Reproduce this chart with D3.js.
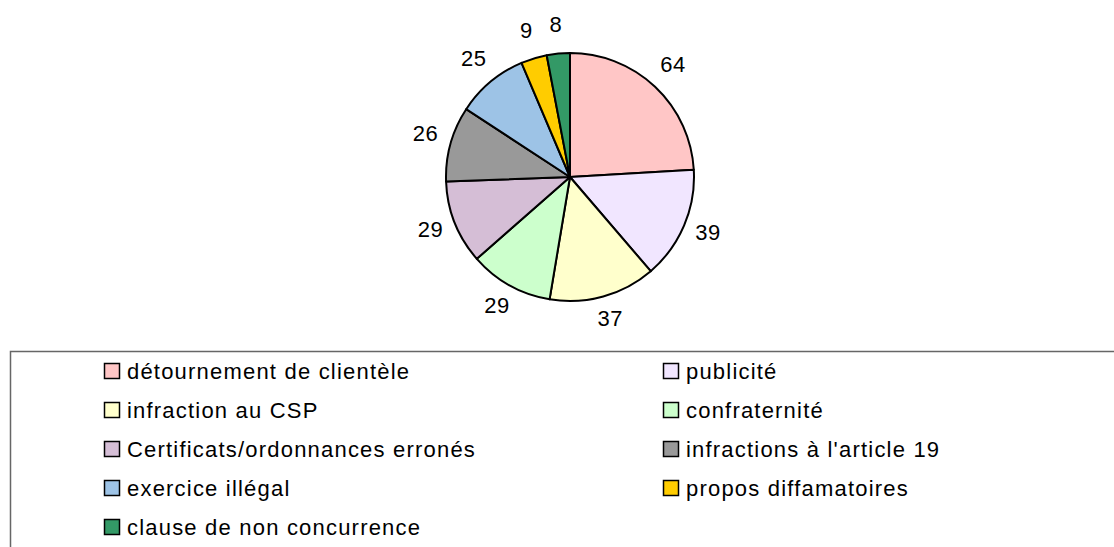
<!DOCTYPE html>
<html>
<head>
<meta charset="utf-8">
<script src="https://cdn.jsdelivr.net/npm/d3@7"></script>
<style>
  html, body { margin: 0; padding: 0; background: #fff; }
  text { font-family: "Liberation Sans", Arial, sans-serif; fill: #000; }
</style>
</head>
<body>
<div id="chart"></div>
<script>
"use strict"

// data
var categories = [
    "détournement de clientèle",
    "publicité",
    "infraction au CSP",
    "confraternité",
    "Certificats/ordonnances erronés",
    "infractions à l'article 19",
    "exercice illégal",
    "propos diffamatoires",
    "clause de non concurrence"
]
var values = [64, 39, 37, 29, 29, 26, 25, 9, 8]
var colors = ["#ffc6c6", "#f1e6ff", "#ffffcc", "#ccffcc", "#d5bed6", "#999999", "#9dc3e6", "#ffcc00", "#339966"]

var settings = {
    width: 1114,
    height: 547,
    cx: 570,
    cy: 177,
    radius: 124,
    label_radius: 150,
    font_size: 22
}

var svg = d3.select("#chart").append("svg")
    .attr("width", settings.width)
    .attr("height", settings.height)

var data = categories.map(function (c, i) { return { name: c, value: values[i], color: colors[i] } })

var pie = d3.pie()
    .sort(null)
    .value(function (d) { return d.value })

var arc = d3.arc()
    .innerRadius(0)
    .outerRadius(settings.radius)

var label_arc = d3.arc()
    .innerRadius(settings.label_radius)
    .outerRadius(settings.label_radius)

var g = svg.append("g")
    .attr("transform", "translate(" + settings.cx + "," + settings.cy + ")")

var arcs = pie(data)

g.selectAll("path")
    .data(arcs)
    .enter()
    .append("path")
    .attr("d", arc)
    .attr("fill", function (d) { return d.data.color })
    .attr("stroke", "#000")
    .attr("stroke-width", 2)
    .attr("stroke-linejoin", "round")

// value labels outside the slices
g.selectAll("text.lbl")
    .data(arcs)
    .enter()
    .append("text")
    .attr("class", "lbl")
    .attr("x", function (d) { return label_arc.centroid(d)[0] })
    .attr("y", function (d) { return label_arc.centroid(d)[1] - 3 })
    .attr("text-anchor", "middle")
    .attr("dominant-baseline", "central")
    .style("font-size", settings.font_size + "px")
    .style("letter-spacing", "0.5px")
    .text(function (d) { return d.data.value })

// legend box, runs off the right and bottom edge
svg.append("rect")
    .attr("x", 10.5)
    .attr("y", 351.5)
    .attr("width", 1200)
    .attr("height", 300)
    .attr("fill", "#fff")
    .attr("stroke", "#666")
    .attr("stroke-width", 1.5)

var col_x = d3.scaleOrdinal().domain([0, 1]).range([104, 663])
var row_y = d3.scaleLinear().domain([0, 1]).range([371, 410])

var legend = svg.selectAll("g.legend")
    .data(data)
    .enter()
    .append("g")
    .attr("class", "legend")
    .attr("transform", function (d, i) {
        return "translate(" + col_x(i % 2) + "," + row_y(Math.floor(i / 2)) + ")"
    })

legend.append("rect")
    .attr("x", 0.5)
    .attr("y", -7.5)
    .attr("width", 15)
    .attr("height", 15)
    .attr("fill", function (d) { return d.color })
    .attr("stroke", "#000")
    .attr("stroke-width", 1.5)

legend.append("text")
    .attr("x", 23)
    .attr("y", 0)
    .attr("dominant-baseline", "central")
    .style("font-size", settings.font_size + "px")
    .style("letter-spacing", "1.2px")
    .text(function (d) { return d.name })
</script>
</body>
</html>
